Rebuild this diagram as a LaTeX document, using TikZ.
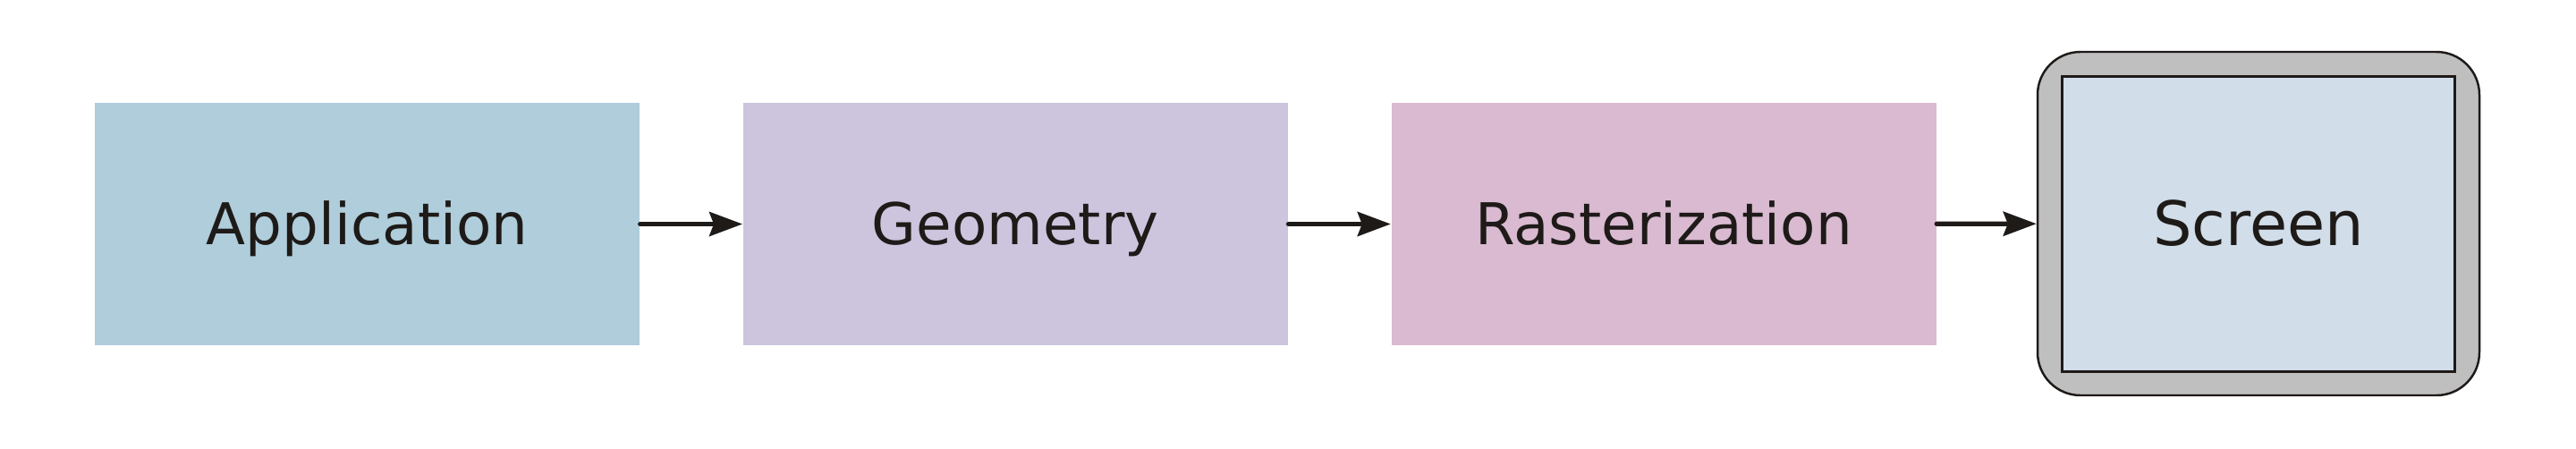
\documentclass[tikz,border=0pt]{standalone}
\usepackage{fontspec}
\setmainfont{DejaVu Sans}
\usetikzlibrary{arrows.meta}
\definecolor{appblue}{RGB}{175,205,219}
\definecolor{geomlilac}{RGB}{205,197,222}
\definecolor{rastpink}{RGB}{217,186,209}
\definecolor{screenblue}{RGB}{209,221,232}
\definecolor{bezelgray}{RGB}{191,191,191}
\definecolor{inkdark}{RGB}{30,26,24}

\begin{document}
\begin{tikzpicture}[
    stagebox/.style={fill=#1, minimum width=6.09cm, minimum height=2.71cm, align=center,
        text=inkdark, text height=13.34pt, text depth=0pt,
        font=\fontsize{18.3pt}{22pt}\selectfont},
    flowarrow/.style={draw=inkdark, line width=1.5pt, line cap=round,
        -{Stealth[length=0.37cm, width=0.27cm, inset=0.05cm]}}]
    \useasboundingbox (0,0) rectangle (28.8,5.01);

    % pipeline stages
    \node[stagebox=appblue] (app) at (4.105,2.505) {Application};
    \node[stagebox=geomlilac] (geom) at (11.353,2.505) {Geometry};
    \node[stagebox=rastpink] (raster) at (18.60,2.505) {Rasterization};

    % screen with bezel
    \node[draw=inkdark, fill=bezelgray, line width=0.7pt, rounded corners=0.48cm,
        minimum width=4.94cm, minimum height=3.84cm] (screen) at (25.25,2.51) {};
    \node[draw=inkdark, fill=screenblue, line width=0.85pt, minimum width=4.39cm,
        minimum height=3.30cm, text=inkdark, text height=14.2pt, text depth=0pt,
        font=\fontsize{19.5pt}{23pt}\selectfont]
        (panel) at (screen.center) {Screen};

    \draw[flowarrow] (app) -- (geom);
    \draw[flowarrow] (geom) -- (raster);
    \draw[flowarrow] (raster) -- (screen);
\end{tikzpicture}
\end{document}
